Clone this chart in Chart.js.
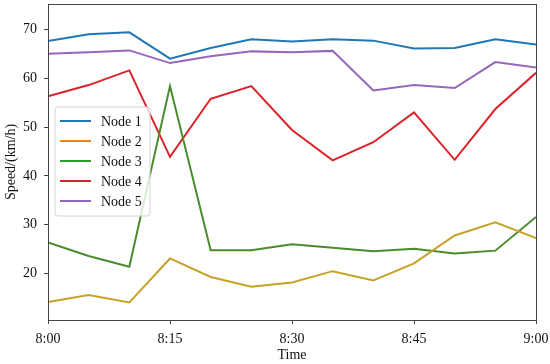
<!DOCTYPE html>
<html><head><meta charset="utf-8">
<script src="https://cdn.jsdelivr.net/npm/chart.js@4/dist/chart.umd.min.js"></script>
<style>html,body{margin:0;padding:0;background:#fff}#wrap{width:550px;height:364px}</style>
</head><body><div id="wrap"><canvas id="c" width="550" height="364"></canvas></div>
<script>
const categories = ['8:00','8:05','8:10','8:15','8:20','8:25','8:30','8:35','8:40','8:45','8:50','8:55','9:00'];
const tickLabels = ['8:00','8:15','8:30','8:45','9:00'];
const yTicks = [20,30,40,50,60,70];
const seriesNames = ['Node 1','Node 2','Node 3','Node 4','Node 5'];
const node1 = [67.6,69.0,69.4,64.0,66.2,68.0,67.5,68.0,67.7,66.1,66.2,68.0,66.9];
const node2 = [14.2,15.6,14.1,23.1,19.3,17.3,18.2,20.5,18.6,22.1,27.8,30.5,27.3];
const node3 = [26.4,23.6,21.4,58.4,24.8,24.8,26.0,25.3,24.6,25.1,24.1,24.7,31.6];
const node4 = [56.3,58.6,61.6,43.9,55.8,58.4,49.4,43.2,46.9,53.0,43.3,53.7,61.1];
const node5 = [65.0,65.3,65.7,63.1,64.5,65.5,65.3,65.6,57.5,58.6,58.0,63.3,62.2];
const lineColors = ['#1f77b4','#c8a228','#4a8c2c','#dc2229','#9467bd'];
const legendColors = ['#1f77b4','#ff7f0e','#2ca02c','#d62728','#9467bd'];

const toMin = s => { const [h,m] = s.split(':').map(Number); return (h-8)*60+m; };
const allSeries = [node1,node2,node3,node4,node5];
const FONT = "'Liberation Serif', 'DejaVu Serif', serif";

const datasets = allSeries.map((vals,i)=>({
  label: seriesNames[i],
  data: vals.map((v,j)=>({x: toMin(categories[j]), y: v})),
  borderColor: lineColors[i],
  backgroundColor: lineColors[i],
  borderWidth: 2,
  pointRadius: 0,
  tension: 0,
  fill: false
}));

const frameAndLegend = {
  id: 'frameAndLegend',
  afterDatasetsDraw(chart){
    const ctx = chart.ctx, a = chart.chartArea;
    ctx.save();
    ctx.strokeStyle = '#444';
    ctx.lineWidth = 1;
    ctx.strokeRect(a.left+0.5, a.top+0.5, a.right-a.left, a.bottom-a.top);
    const bx = a.left+7, by = a.top+103, bw = 95, bh = 109, r = 3;
    ctx.beginPath();
    ctx.moveTo(bx+r,by); ctx.lineTo(bx+bw-r,by); ctx.quadraticCurveTo(bx+bw,by,bx+bw,by+r);
    ctx.lineTo(bx+bw,by+bh-r); ctx.quadraticCurveTo(bx+bw,by+bh,bx+bw-r,by+bh);
    ctx.lineTo(bx+r,by+bh); ctx.quadraticCurveTo(bx,by+bh,bx,by+bh-r);
    ctx.lineTo(bx,by+r); ctx.quadraticCurveTo(bx,by,bx+r,by); ctx.closePath();
    ctx.fillStyle = 'rgba(255,255,255,0.8)';
    ctx.fill();
    ctx.strokeStyle = '#d4d4d4';
    ctx.stroke();
    ctx.font = '14px ' + FONT;
    ctx.textBaseline = 'middle';
    ctx.fillStyle = '#111';
    seriesNames.forEach((n,i)=>{
      const yy = by + 14 + i*20;
      ctx.strokeStyle = legendColors[i];
      ctx.lineWidth = 2;
      ctx.beginPath(); ctx.moveTo(bx+5, yy); ctx.lineTo(bx+36, yy); ctx.stroke();
      ctx.fillText(n, bx+46, yy+1);
    });
    ctx.restore();
  }
};

new Chart(document.getElementById('c'), {
  type: 'line',
  data: { datasets },
  plugins: [frameAndLegend],
  options: {
    responsive: false,
    animation: false,
    layout: { padding: { left: 0, right: 14, top: 4, bottom: 0 } },
    plugins: { legend: { display: false }, tooltip: { enabled: false } },
    scales: {
      x: {
        type: 'linear', min: 0, max: 60,
        afterBuildTicks: s => { s.ticks = tickLabels.map(t=>({value: toMin(t)})); },
        afterFit: s => { s.height = 44; s.paddingLeft = 0; s.paddingRight = 0; },
        ticks: { callback: v => tickLabels.find(t=>toMin(t)===v) || '', font: { family: FONT, size: 14 }, color: '#111', padding: 7, maxRotation: 0 },
        grid: { drawOnChartArea: false, drawTicks: true, tickLength: 4, color: '#444' },
        border: { display: false },
        title: { display: true, text: 'Time', font: { family: FONT, size: 14 }, color: '#111', padding: { top: 0, bottom: 0 } }
      },
      y: {
        min: 10.5, max: 75.2,
        afterBuildTicks: s => { s.ticks = yTicks.map(v=>({value:v})); },
        afterFit: s => { s.width = 48; s.paddingTop = 0; s.paddingBottom = 0; },
        ticks: { font: { family: FONT, size: 14 }, color: '#111', padding: 7 },
        grid: { drawOnChartArea: false, drawTicks: true, tickLength: 4, color: '#444' },
        border: { display: false },
        title: { display: true, text: 'Speed/(km/h)', font: { family: FONT, size: 14 }, color: '#111', padding: { top: 3, bottom: 0 } }
      }
    }
  }
});
</script></body></html>
